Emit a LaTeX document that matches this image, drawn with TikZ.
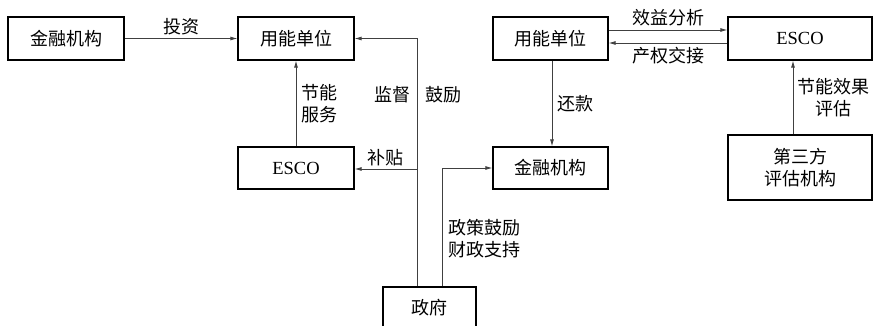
\documentclass[tikz,border=0pt]{standalone}
\usepackage{fontspec}
\setmainfont{Liberation Serif}
\newfontfamily\cjk{Noto Sans CJK SC}
\usetikzlibrary{arrows.meta}
\begin{document}
\begin{tikzpicture}[x=1pt,y=-1pt,
  box/.style={draw, line width=1.2pt, inner sep=0pt, font=\fontsize{18}{22}\selectfont\cjk, align=center},
  lat/.style={font=\fontsize{18}{22}\selectfont\cjk, inner sep=1pt, align=center},
  conn/.style={draw=black!75, line width=0.8pt},
  arr/.style={conn, -{Latex[length=7pt,width=4pt]}}]
\clip (0,0) rectangle (873,325);
\useasboundingbox (0,0) rectangle (873,325);
\node[box, minimum width=116pt, minimum height=43pt] (n1) at (66,38.5) {金融机构};
\node[box, minimum width=116pt, minimum height=43pt] (u1) at (296,38.5) {用能单位};
\node[box, minimum width=116pt, minimum height=42pt] (e1) at (296,168) {\fontsize{18.5}{20}\selectfont\rmfamily ESCO};
\node[box, minimum width=115pt, minimum height=43pt] (u2) at (550.5,38.5) {用能单位};
\node[box, minimum width=144pt, minimum height=43pt] (e2) at (800,38.5) {\fontsize{18.5}{20}\selectfont\rmfamily ESCO};
\node[box, minimum width=115pt, minimum height=42pt] (f2) at (550.5,168) {金融机构};
\node[box, minimum width=144pt, minimum height=65pt] (t3) at (800,167.5) {第三方\\评估机构};
\node[box, minimum width=93pt, minimum height=45pt] (g) at (429.5,309.5) {\raisebox{5pt}{政府}};
% left part
\draw[arr] (n1.east) -- (u1.west) node[lat, midway, above=2pt] {投资};
\draw[arr] (e1.north) -- (u1.south) node[lat, midway, right=4pt] {节能\\服务};
\coordinate (gl) at (417,0);
\coordinate (gr) at (442,0);
\draw[arr] (g.north -| gl) -- (gl |- u1.east) -- (u1.east);
\coordinate (bj) at (417,169);
\draw[arr] (bj) -- (e1.east |- bj) node[lat, midway, above=2pt] {补贴};
\node[lat, anchor=east] (jd) at (412,95) {监督};
\node[lat, anchor=west] (gl2) at (424,95) {鼓励};
\draw[arr] (g.north -| gr) |- (f2.west);
\node[lat, anchor=west, align=left] (zc) at (447,239) {政策鼓励\\财政支持};
% right part
\coordinate (ua) at (0,30);
\coordinate (ub) at (0,43);
\draw[arr] (u2.east |- ua) -- (e2.west |- ua) node[lat, midway, above=3pt] {效益分析};
\draw[arr] (e2.west |- ub) -- (u2.east |- ub) node[lat, midway, below=3pt] {产权交接};
\coordinate (hk) at (552,0);
\draw[arr] (u2.south -| hk) -- (f2.north -| hk) node[lat, midway, right=4pt] {还款};
\coordinate (pg) at (793,0);
\draw[arr] (t3.north -| pg) -- (e2.south -| pg) node[lat, midway, right=3pt] {节能效果\\评估};
\end{tikzpicture}
\end{document}
